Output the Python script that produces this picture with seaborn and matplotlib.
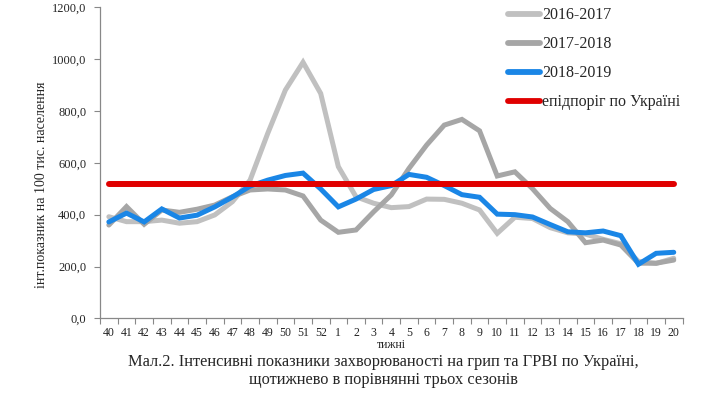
import matplotlib
matplotlib.use("Agg")
import matplotlib.pyplot as plt
import seaborn as sns
import pandas as pd
import numpy as np
from matplotlib.ticker import FuncFormatter, FixedLocator

weeks = ["40", "41", "42", "43", "44", "45", "46", "47", "48", "49", "50", "51", "52",
         "1", "2", "3", "4", "5", "6", "7", "8", "9", "10", "11", "12", "13", "14",
         "15", "16", "17", "18", "19", "20"]

s2016_2017 = [392, 373, 373, 379, 367, 373, 399, 450, 533, 713, 880, 987, 867,
              585, 469, 444, 427, 431, 460, 459, 444, 418, 328, 390, 385, 350, 330,
              325, 305, 288, 220, 212, 232]
s2017_2018 = [360, 431, 363, 418, 409, 421, 437, 469, 495, 499, 495, 472, 379,
              332, 341, 411, 476, 578, 668, 745, 767, 723, 549, 565, 500, 424, 373,
              292, 302, 283, 213, 213, 225]
s2018_2019 = [372, 406, 372, 422, 387, 398, 430, 468, 510, 533, 551, 560, 499,
              430, 460, 497, 512, 555, 544, 512, 477, 467, 402, 400, 391, 362, 334,
              330, 337, 319, 209, 251, 255]
threshold = 520

labels = ["2016-2017", "2017-2018", "2018-2019", "епідпоріг по Україні"]
colors = ["#c0c0c0", "#a6a6a6", "#1a86e6", "#e00000"]

n = len(weeks)
df = pd.DataFrame({
    "pos": list(range(n)) * 4,
    "value": s2016_2017 + s2017_2018 + s2018_2019 + [threshold] * n,
    "series": sum([[lab] * n for lab in labels], []),
})

sns.set_theme(style="white")
plt.rcParams["font.family"] = ["Liberation Serif", "DejaVu Serif"]

fig = plt.figure(figsize=(7.28, 3.95), dpi=100)
ax = fig.add_axes([0.1374, 0.1937, 0.8002, 0.7886])

for lab, col in zip(labels, colors):
    sub = df[df["series"] == lab]
    lw = 4.3 if lab == labels[3] else 3.6
    sns.lineplot(data=sub, x="pos", y="value", ax=ax, color=col, linewidth=lw,
                 label=lab, solid_capstyle="round", solid_joinstyle="miter")

ax.set_xlim(-0.5, n - 0.5)
ax.set_ylim(0, 1200)
ax.set_yticks(np.arange(0, 1201, 200))
ax.yaxis.set_major_formatter(FuncFormatter(lambda v, p: f"{v:.1f}".replace(".", ",")))
ax.set_xticks(range(n))
ax.set_xticklabels(weeks)
ax.xaxis.set_minor_locator(FixedLocator(np.arange(-0.5, n, 1.0)))
ax.tick_params(axis="x", which="major", length=0, labelsize=8.5, pad=6, colors="#222222")
ax.tick_params(axis="x", which="minor", length=4, width=0.8, color="#888888", bottom=True)
ax.tick_params(axis="y", which="major", length=4, width=0.8, color="#888888",
               labelsize=9, left=True, pad=6)
for s in ["top", "right"]:
    ax.spines[s].set_visible(False)
for s in ["left", "bottom"]:
    ax.spines[s].set_color("#888888")
    ax.spines[s].set_linewidth(0.9)

ax.set_xlabel("тижні", fontsize=8.5, labelpad=0)
ax.set_ylabel("інт.показник на 100 тис. населення", fontsize=10)
ax.yaxis.set_label_coords(-0.089, 0.43)

leg = ax.legend(loc="upper left", bbox_to_anchor=(0.69, 1.02), frameon=False,
                fontsize=11.5, handlelength=2.0, handletextpad=0.1,
                labelspacing=0.82, borderaxespad=0)
for h in leg.get_lines():
    h.set_linewidth(4.2)

fig.text(0.527, 0.083, "Мал.2. Інтенсивні показники захворюваності на грип та ГРВІ по Україні,",
         ha="center", va="center", fontsize=11.8)
fig.text(0.527, 0.037, "щотижнево в порівнянні трьох сезонів",
         ha="center", va="center", fontsize=11.8)

fig.savefig("out.png", dpi=100)
